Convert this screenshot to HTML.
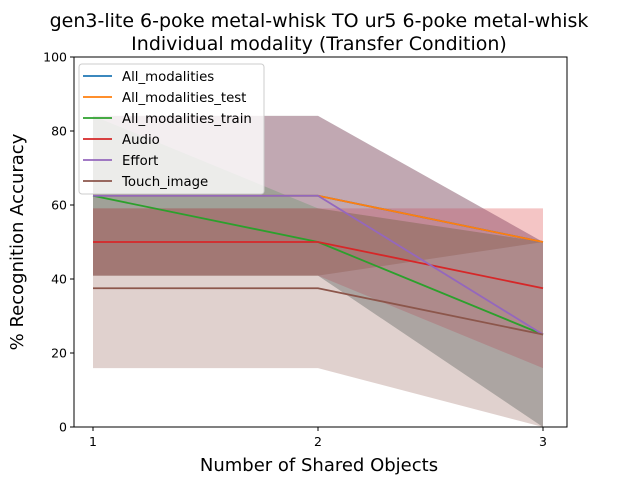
<!DOCTYPE html>
<html><head><meta charset="utf-8"><style>
body{margin:0;background:#fff}
svg{display:block;font-family:"DejaVu Sans","Liberation Sans",sans-serif}
</style></head><body>
<svg id="chart" width="624" height="485">
<text x="319" y="27" font-size="19" text-anchor="middle">gen3-lite 6-poke metal-whisk TO ur5 6-poke metal-whisk</text>
<text x="319" y="50" font-size="19" text-anchor="middle">Individual modality (Transfer Condition)</text>
<g id="bands"></g><g id="lines"></g><g id="axes"></g><g id="legend"></g>
</svg>
<script>
const categories=[1,2,3];
const seriesNames=["All_modalities","All_modalities_test","All_modalities_train","Audio","Effort","Touch_image"];
const colors=["#1f77b4","#ff7f0e","#2ca02c","#d62728","#9467bd","#8c564b"];
const allMean=[62.5,62.5,50];
const allStd=[21.6,21.6,0];
const testMean=[62.5,62.5,50];
const testStd=[21.6,21.6,0];
const trainMean=[62.5,50,25];
const trainStd=[21.6,9.1,25];
const audioMean=[50,50,37.5];
const audioStd=[9.1,9.1,21.6];
const effortMean=[62.5,62.5,25];
const effortStd=[21.6,21.6,25];
const touchMean=[37.5,37.5,25];
const touchStd=[21.6,21.6,25];
const yTicks=[0,20,40,60,80,100];
const means=[allMean,testMean,trainMean,audioMean,effortMean,touchMean];
const stds=[allStd,testStd,trainStd,audioStd,effortStd,touchStd];
const NS="http://www.w3.org/2000/svg";
const L=74,R=567,T=57,B=427;
const xs=v=>93+(v-1)*225;
const ys=v=>B-(v/100)*(B-T);
function mk(t,a,p){const e=document.createElementNS(NS,t);for(const k in a)e.setAttribute(k,a[k]);p.appendChild(e);return e;}
const bands=document.getElementById('bands'),lines=document.getElementById('lines'),axes=document.getElementById('axes'),leg=document.getElementById('legend');
means.forEach((m,i)=>{
  const s=stds[i];
  const top=categories.map((c,j)=>xs(c)+','+ys(Math.min(100,m[j]+s[j])));
  const bot=categories.map((c,j)=>xs(c)+','+ys(Math.max(0,m[j]-s[j]))).reverse();
  const b=mk('polygon',{points:top.concat(bot).join(' '),fill:colors[i],'fill-opacity':0.27},bands);
  
  
});
means.forEach((m,i)=>{
  const l=mk('polyline',{points:categories.map((c,j)=>xs(c)+','+ys(m[j])).join(' '),fill:'none',stroke:colors[i],'stroke-width':1.8},lines);
  
  
});
const fr=mk('rect',{x:L,y:T,width:R-L,height:B-T,fill:'none',stroke:'#000','stroke-width':1},axes);


yTicks.forEach(v=>{
  mk('line',{x1:L-4,x2:L,y1:ys(v),y2:ys(v),stroke:'#000'},axes);
  const t=mk('text',{x:L-7,y:ys(v)+4.5,'font-size':12.5,'text-anchor':'end'},axes);t.textContent=v;
  
  
});
categories.forEach(c=>{
  mk('line',{x1:xs(c),x2:xs(c),y1:B,y2:B+4,stroke:'#000'},axes);
  const t=mk('text',{x:xs(c),y:B+19,'font-size':12.5,'text-anchor':'middle'},axes);t.textContent=c;
  
  
});
const xt=mk('text',{x:319,y:471,'font-size':18,'text-anchor':'middle'},axes);xt.textContent='Number of Shared Objects';


const yt=mk('text',{x:0,y:0,'font-size':18,'text-anchor':'middle',transform:'translate(23,242) rotate(-90)'},axes);yt.textContent='% Recognition Accuracy';


const lb=mk('rect',{x:79,y:64,width:185,height:130,rx:3,fill:'#fff','fill-opacity':0.8,stroke:'#ccc'},leg);


seriesNames.forEach((n,i)=>{
  const y=76+i*21;
  const g=mk('g',{},leg);
  
  
  mk('line',{x1:83,x2:112,y1:y,y2:y,stroke:colors[i],'stroke-width':1.8},g);
  const t=mk('text',{x:122,y:y+5,'font-size':13.3},g);t.textContent=n;
});
</script>
</body></html>
